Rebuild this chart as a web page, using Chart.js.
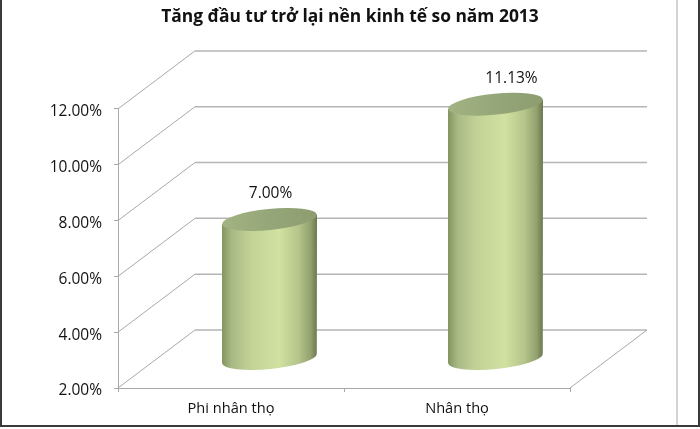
<!DOCTYPE html>
<html>
<head>
<meta charset="utf-8">
<style>
html, body { margin: 0; padding: 0; background: #fff; overflow: hidden; }
#wrap { position: relative; width: 700px; height: 429px; }
</style>
<script src="https://cdn.jsdelivr.net/npm/chart.js@4"></script>
</head>
<body>
<div id="wrap"><canvas id="chart" width="700" height="429"></canvas></div>
<script>
const categories = ['Phi nhân thọ', 'Nhân thọ'];
const values = [7.00, 11.13];
const valueLabels = ['7.00%', '11.13%'];
const chartTitle = 'Tăng đầu tư trở lại nền kinh tế so năm 2013';

const FONT = '"Open Sans", "Noto Sans", sans-serif';
const DEPTH_X = 77, DEPTH_Y = -58;
const GRID = '#b5b5b5';

// back wall, floor and side lines
const wallPlugin = {
    id: 'wall',
    beforeDatasetsDraw(chart) {
        const { ctx, chartArea: a, scales: { y } } = chart;
        ctx.save();
        ctx.lineWidth = 1;
        y.ticks.forEach(t => {
            const py = y.getPixelForValue(t.value);
            ctx.strokeStyle = '#a8a8a8';
            ctx.beginPath();
            ctx.moveTo(a.left, py);
            ctx.lineTo(a.left + DEPTH_X, py + DEPTH_Y);
            ctx.stroke();
            ctx.strokeStyle = GRID;
            ctx.lineWidth = 1.5;
            ctx.beginPath();
            ctx.moveTo(a.left + DEPTH_X, py + DEPTH_Y);
            ctx.lineTo(a.right + DEPTH_X, py + DEPTH_Y);
            ctx.stroke();
            ctx.lineWidth = 1;
        });
        ctx.strokeStyle = '#a8a8a8';
        ctx.beginPath();
        ctx.moveTo(a.right, a.bottom);
        ctx.lineTo(a.right + DEPTH_X, a.bottom + DEPTH_Y);
        ctx.stroke();
        ctx.restore();
    }
};

// each bar is turned into a cylinder standing half way into the depth
const cylinderPlugin = {
    id: 'cylinder',
    afterDatasetsDraw(chart) {
        const { ctx } = chart;
        const tilt = -0.1;
        chart.getDatasetMeta(0).data.forEach((bar, i) => {
            const cx = bar.x + DEPTH_X / 2;
            const rx = bar.width / 2;
            const ry = 10.5;
            const top = bar.y + DEPTH_Y / 2;
            const bottom = bar.base + DEPTH_Y / 2;
            const dy = Math.sin(tilt) * rx;

            const body = ctx.createLinearGradient(cx - rx, 0, cx + rx, 0);
            body.addColorStop(0, '#84945f');
            body.addColorStop(0.1, '#a9b985');
            body.addColorStop(0.3, '#c2d296');
            body.addColorStop(0.6, '#d0e1a0');
            body.addColorStop(0.8, '#b6c68c');
            body.addColorStop(0.93, '#93a26f');
            body.addColorStop(1, '#6b7850');

            ctx.save();
            ctx.fillStyle = body;
            ctx.beginPath();
            ctx.moveTo(cx - rx, top - dy);
            ctx.lineTo(cx - rx, bottom - dy);
            ctx.ellipse(cx, bottom, rx, ry, tilt, Math.PI, 0, true);
            ctx.lineTo(cx + rx, top + dy);
            ctx.closePath();
            ctx.fill();

            const cap = ctx.createLinearGradient(cx - rx, 0, cx + rx, 0);
            cap.addColorStop(0, '#a3b383');
            cap.addColorStop(0.5, '#95a678');
            cap.addColorStop(1, '#8d9d70');
            ctx.fillStyle = cap;
            ctx.beginPath();
            ctx.ellipse(cx, top, rx, ry, tilt, 0, Math.PI * 2);
            ctx.fill();
            ctx.restore();

            ctx.save();
            ctx.fillStyle = '#111';
            ctx.font = '15.5px ' + FONT;
            ctx.textAlign = 'center';
            ctx.textBaseline = 'middle';
            ctx.fillText(valueLabels[i], cx + (i === 1 ? 16 : 1), top - 26);
            ctx.restore();
        });
    }
};

// outer frame of the screenshot
const framePlugin = {
    id: 'frame',
    afterDraw(chart) {
        const { ctx } = chart;
        ctx.save();
        ctx.strokeStyle = '#c4c4c4';
        ctx.lineWidth = 1.5;
        ctx.beginPath();
        ctx.moveTo(677, 0);
        ctx.lineTo(677, 425);
        ctx.stroke();
        ctx.strokeStyle = '#3a3a3a';
        ctx.lineWidth = 2;
        ctx.beginPath();
        ctx.moveTo(1, 0);
        ctx.lineTo(1, 426);
        ctx.lineTo(699, 426);
        ctx.lineTo(699, 0);
        ctx.stroke();
        ctx.restore();
    }
};

new Chart(document.getElementById('chart'), {
    type: 'bar',
    data: {
        labels: categories,
        datasets: [{
            data: values,
            base: 2,
            backgroundColor: 'transparent',
            borderWidth: 0,
            barThickness: 95
        }]
    },
    options: {
        responsive: false,
        animation: false,
        devicePixelRatio: 1,
        plugins: {
            legend: { display: false },
            tooltip: { enabled: false },
            title: {
                display: true,
                text: chartTitle,
                color: '#111',
                font: { family: FONT, size: 17.4, weight: 'bold' },
                padding: { top: 7, bottom: 81 }
            }
        },
        scales: {
            x: {
                grid: { drawOnChartArea: false, color: '#a8a8a8', tickLength: 4 },
                border: { color: '#a8a8a8' },
                ticks: { color: '#111', font: { family: FONT, size: 14.6 }, padding: 8 },
                afterFit(scale) { scale.height = 41; }
            },
            y: {
                min: 2,
                max: 12,
                grid: { drawOnChartArea: false, color: '#a8a8a8', tickLength: 4 },
                border: { color: '#a8a8a8' },
                ticks: {
                    stepSize: 2,
                    color: '#111',
                    padding: 12,
                    labelOffset: 3,
                    font: { family: FONT, size: 15.5 },
                    callback: v => v.toFixed(2) + '%'
                },
                afterFit(scale) { scale.width = 118; }
            },
            // empty axis, keeps room on the right for the depth of the wall
            side: {
                position: 'right',
                grid: { display: false },
                border: { display: false },
                ticks: { display: false },
                afterFit(scale) { scale.width = 130; }
            }
        }
    },
    plugins: [wallPlugin, cylinderPlugin, framePlugin]
});
</script>
</body>
</html>
